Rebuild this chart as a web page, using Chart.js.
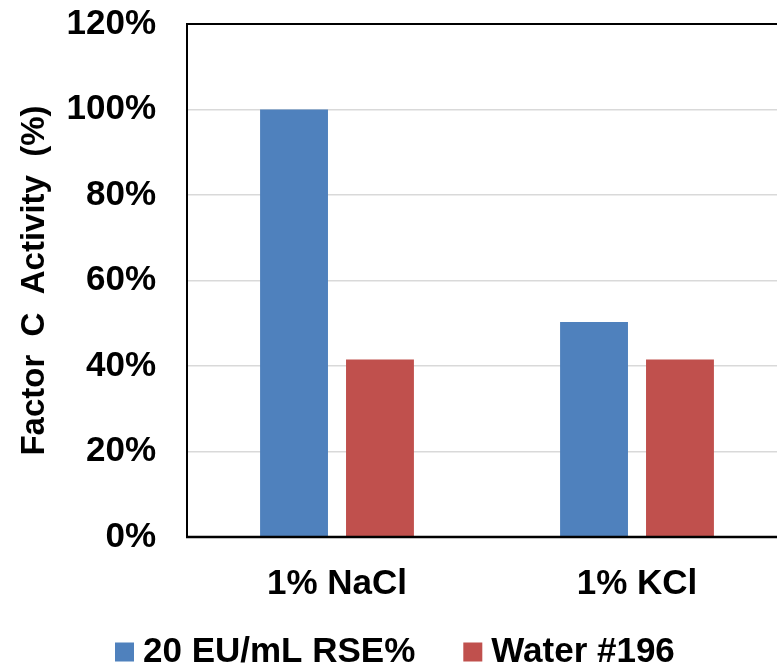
<!DOCTYPE html>
<html>
<head>
<meta charset="utf-8">
<script src="https://cdn.jsdelivr.net/npm/chart.js@4.4.1/dist/chart.umd.min.js"></script>
<style>
  html, body { margin: 0; padding: 0; background: #fff; overflow: hidden; width: 777px; height: 668px; }
  #wrap { position: relative; width: 800px; height: 668px; }
</style>
</head>
<body>
<div id="wrap"><canvas id="chart"></canvas></div>
<script>
const categories = ['1% NaCl', '1% KCl'];
const seriesNames = ['20 EU/mL RSE%', 'Water #196'];
const rseValues = [100, 50.3];
const waterValues = [41.5, 41.5];
const yTicks = [0, 20, 40, 60, 80, 100, 120];

const FONT = '"Liberation Sans", Arial, Helvetica, sans-serif';
const BLUE = '#4F81BD';
const RED = '#C0504D';

// Black frame around the plotting area (top and left edges visible)
const frame = {
  id: 'frame',
  afterDatasetsDraw(chart) {
    const { ctx, chartArea: a } = chart;
    ctx.save();
    ctx.strokeStyle = '#000';
    ctx.lineWidth = 2;
    ctx.beginPath();
    ctx.moveTo(a.left, a.bottom);
    ctx.lineTo(a.left, a.top);
    ctx.lineTo(a.right, a.top);
    ctx.lineTo(a.right, a.bottom);
    ctx.stroke();
    ctx.lineWidth = 2.5;
    ctx.beginPath();
    ctx.moveTo(a.left - 1, a.bottom);
    ctx.lineTo(a.right, a.bottom);
    ctx.stroke();
    ctx.restore();
  }
};

// Legend row under the category labels
const bottomLegend = {
  id: 'bottomLegend',
  afterDraw(chart) {
    const { ctx } = chart;
    ctx.save();
    ctx.font = 'bold 35px ' + FONT;
    ctx.textBaseline = 'middle';
    ctx.textAlign = 'left';
    let x = 115;
    const y = 652;
    chart.data.datasets.forEach(ds => {
      ctx.fillStyle = ds.backgroundColor;
      ctx.fillRect(x, y - 9.5, 19, 19);
      ctx.fillStyle = '#000';
      ctx.fillText(ds.label, x + 28, y);
      x += 28 + ctx.measureText(ds.label).width + 48;
    });
    ctx.restore();
  }
};

new Chart(document.getElementById('chart'), {
  type: 'bar',
  data: {
    labels: categories,
    datasets: [
      { label: seriesNames[0], data: rseValues, backgroundColor: BLUE },
      { label: seriesNames[1], data: waterValues, backgroundColor: RED }
    ]
  },
  options: {
    responsive: true,
    maintainAspectRatio: false,
    devicePixelRatio: 1,
    animation: false,
    layout: { padding: { top: 24, right: 13, bottom: 0, left: 0 } },
    datasets: { bar: { categoryPercentage: 0.573, barPercentage: 0.79 } },
    plugins: { legend: { display: false }, tooltip: { enabled: false } },
    scales: {
      x: {
        grid: { display: false, drawTicks: false },
        border: { display: false },
        ticks: { color: '#000', font: { family: FONT, size: 35, weight: 'bold' }, padding: 26 },
        afterFit(s) { s.height = 131; s.paddingLeft = 0; s.paddingRight = 0; }
      },
      y: {
        min: 0,
        max: 120,
        afterBuildTicks(s) { s.ticks = yTicks.map(v => ({ value: v })); },
        grid: { color: '#D9D9D9', lineWidth: 1.5, drawTicks: false },
        border: { display: false },
        ticks: {
          color: '#000',
          font: { family: FONT, size: 35, weight: 'bold' },
          padding: 31,
          callback: v => v + '%'
        },
        title: {
          display: true,
          text: 'Factor  C  Activity  (%)',
          color: '#000',
          font: { family: FONT, size: 33, weight: 'bold' },
          padding: { top: 15, bottom: 0 }
        },
        afterFit(s) { s.width = 187; s.paddingTop = 0; s.paddingBottom = 0; }
      }
    }
  },
  plugins: [frame, bottomLegend]
});
</script>
</body>
</html>
